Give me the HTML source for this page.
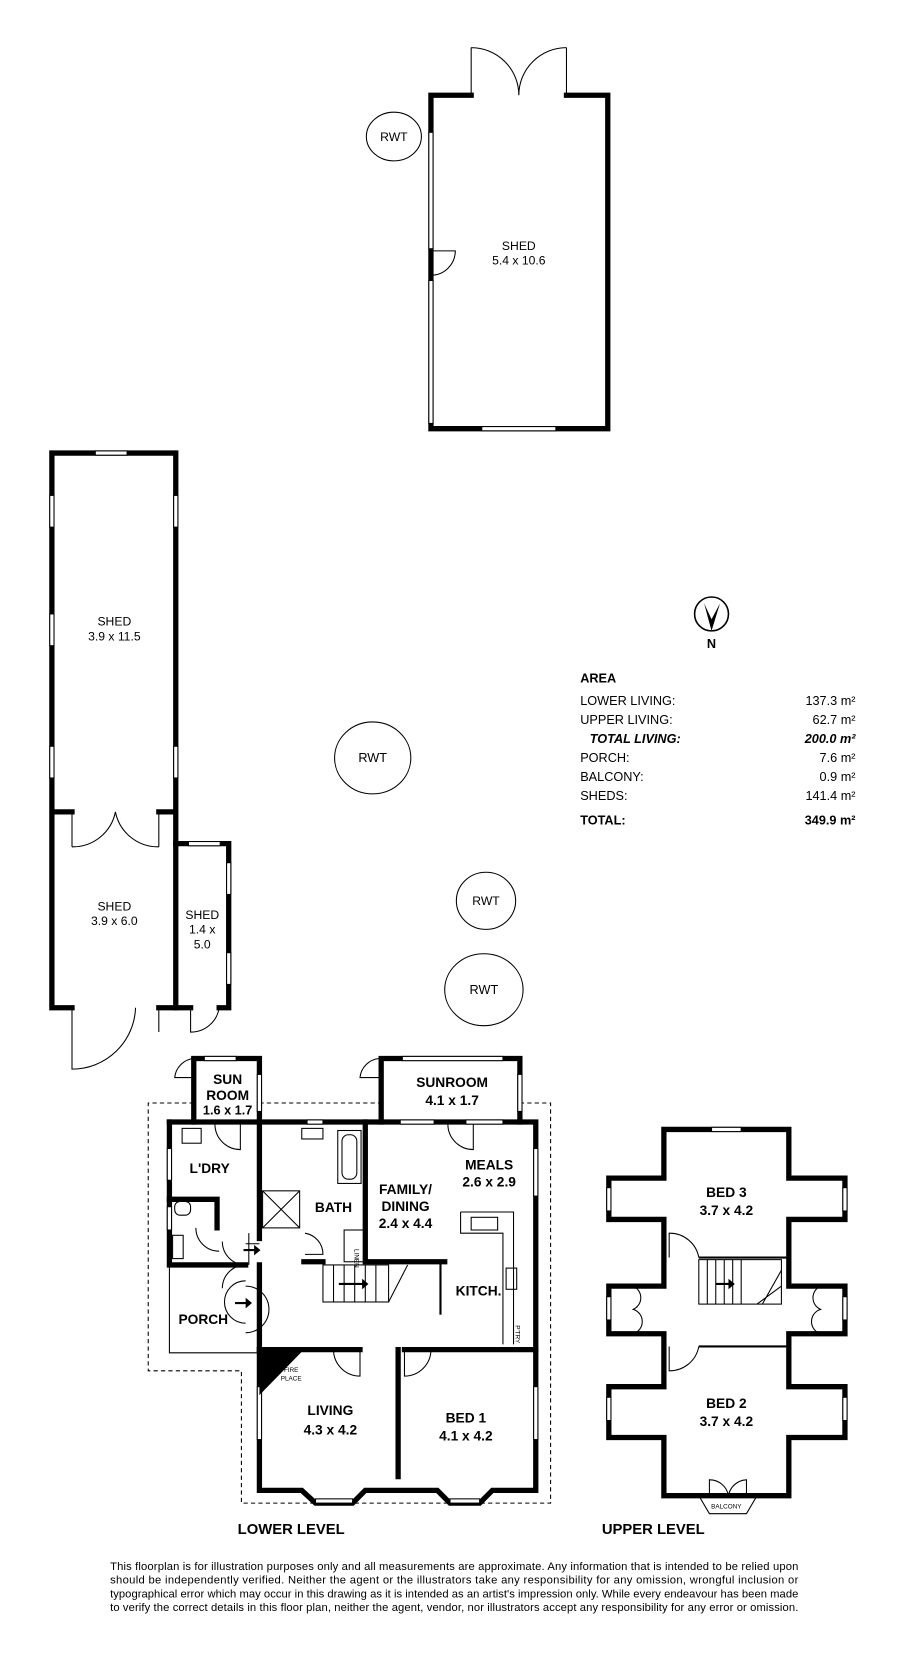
<!DOCTYPE html>
<html><head><meta charset="utf-8"><style>
html,body{margin:0;padding:0;background:#fff;width:900px;height:1664px;overflow:hidden}
svg{display:block}
text{font-family:"Liberation Sans",sans-serif;fill:#000}
.b{font-weight:bold}
</style></head><body>
<svg width="900" height="1664" viewBox="0 0 850 1572" preserveAspectRatio="none">
<g fill="none" stroke="#000" stroke-width="5" stroke-linejoin="miter" stroke-linecap="square">
<path d="M445,90 L407,90 L407,405 L574,405 L574,90 L535,90"/>
<path d="M68,767 L49,767 L49,952 L68,952 M150,767 L166,767 M49,767 L49,428 L166,428 L166,952 L150,952"/>
<path d="M166,797 L216,797 L216,952 L207,952 M166,952 L180,952"/>
<path d="M183,1060 L183,1000 L245,1000 L245,1060"/>
<path d="M360,1060 L360,1000 L491,1000 L491,1060"/>
<path d="M160,1060 L506,1060 L506,1408 L465,1408 L453,1420 L425,1420 L413,1408 L345,1408 L333,1420 L298,1420 L285,1408 L245,1408 L245,1275"/>
<path d="M160,1060 L160,1195 L232,1195"/>
<path d="M245,1060 L245,1170"/>
<path d="M345,1060 L345,1192 L420,1192"/>
<path d="M160,1133 L205,1133 L205,1160"/>
<path d="M245,1275 L340,1275 M382,1275 L506,1275"/>
<path d="M376,1275 L376,1395"/>
<path d="M245,1195 L245,1275"/>
<path d="M287,1192 L305,1192"/>
<path d="M627,1067 L745,1067 L745,1113 L798,1113 L798,1152 L745,1152 L745,1215 L798,1215 L798,1260 L745,1260 L745,1310 L798,1310 L798,1358 L745,1358 L745,1413 L627,1413 L627,1358 L575,1358 L575,1310 L627,1310 L627,1260 L575,1260 L575,1215 L627,1215 L627,1152 L575,1152 L575,1113 L627,1113 Z"/>
</g>
<g fill="none" stroke="#000" stroke-width="2">
<path d="M660,1188 L745,1188 M660,1272 L745,1272"/>
<path d="M416,1190 L416,1242"/>
</g>
<g fill="none" stroke="#000" stroke-width="1">
<path d="M445,90 L445,45 M535,90 L535,45 M445,45 A45,45 0 0 1 490,90 M535,45 A45,45 0 0 0 490,90"/>
<path d="M407,237 L430,237 A23,23 0 0 1 407,260"/>
<rect x="405" y="125" width="4" height="110" fill="#fff"/>
<rect x="405" y="265" width="4" height="135" fill="#fff"/>
<rect x="455" y="403" width="70" height="4" fill="#fff"/>
<path d="M68,767 L68,800 M150,767 L150,800 M68,800 A41,41 0 0 0 109,767 M150,800 A41,41 0 0 1 109,767"/>
<path d="M68,952 L68,1010 A60,60 0 0 0 128,952 M150,952 L150,975"/>
<path d="M180,952 L180,975 A27,27 0 0 0 207,952"/>
<rect x="90" y="426" width="30" height="4" fill="#fff"/>
<rect x="47" y="468" width="4" height="30" fill="#fff"/>
<rect x="47" y="580" width="4" height="30" fill="#fff"/>
<rect x="47" y="705" width="4" height="30" fill="#fff"/>
<rect x="164" y="468" width="4" height="30" fill="#fff"/>
<rect x="164" y="705" width="4" height="30" fill="#fff"/>
<rect x="178" y="795" width="30" height="4" fill="#fff"/>
<rect x="214" y="815" width="4" height="30" fill="#fff"/>
<rect x="214" y="900" width="4" height="30" fill="#fff"/>
<ellipse cx="372" cy="129" rx="26" ry="23"/>
<ellipse cx="352" cy="716" rx="36" ry="34"/>
<ellipse cx="459" cy="851" rx="28" ry="27"/>
<ellipse cx="457" cy="935" rx="37" ry="34"/>
<circle cx="672" cy="580" r="16" stroke-width="1.5"/>
<path stroke-dasharray="4,3" d="M183,1042 L140,1042 L140,1295 L228,1295 L228,1420 L520,1420 L520,1042 L493,1042 M245,1042 L358,1042"/>
<path d="M160,1195 L160,1278 L245,1278"/>
<rect x="193" y="998" width="30" height="4" fill="#fff"/>
<rect x="243" y="1015" width="4" height="35" fill="#fff"/>
<rect x="380" y="998" width="95" height="4" fill="#fff"/>
<rect x="489" y="1015" width="4" height="35" fill="#fff"/>
<rect x="158" y="1085" width="4" height="30" fill="#fff"/>
<rect x="158" y="1140" width="4" height="22" fill="#fff"/>
<rect x="378" y="1058" width="32" height="4" fill="#fff"/>
<rect x="440" y="1058" width="35" height="4" fill="#fff"/>
<rect x="504" y="1085" width="4" height="45" fill="#fff"/>
<rect x="290" y="1058" width="15" height="4" fill="#fff"/>
<rect x="243" y="1310" width="4" height="50" fill="#fff"/>
<rect x="504" y="1310" width="4" height="50" fill="#fff"/>
<rect x="298" y="1416" width="35" height="4" fill="#fff"/>
<rect x="425" y="1416" width="28" height="4" fill="#fff"/>
<path d="M183,1018 L165,1018 A20,20 0 0 1 183,1000"/>
<path d="M358,1018 L340,1018 A20,20 0 0 1 358,1000"/>
<path d="M203,1062 A24,24 0 0 0 227,1086 L227,1062"/>
<path d="M423,1062 A24,24 0 0 0 447,1086 L447,1062"/>
<path d="M340,1275 L340,1300 A25,25 0 0 1 315,1275"/>
<path d="M382,1275 L382,1300 A25,25 0 0 0 407,1275"/>
<path d="M288,1165 A20,20 0 0 1 305,1185 L288,1185"/>
<path d="M185,1160 A22,22 0 0 0 207,1182"/>
<path d="M232,1195 A22,22 0 0 1 210,1173 M232,1195 A22,22 0 0 0 210,1217 M232,1210 A20,20 0 0 0 232,1250 M232,1215 A22,22 0 0 1 232,1259"/>
<rect x="172" y="1066" width="18" height="14"/>
<rect x="285" y="1066" width="20" height="10"/>
<rect x="319" y="1068" width="22" height="50"/>
<rect x="323" y="1072" width="14" height="42" rx="6"/>
<rect x="248" y="1125" width="35" height="35"/>
<path d="M248,1125 L283,1160 M283,1125 L248,1160"/>
<rect x="325" y="1162" width="20" height="30"/>
<rect x="165" y="1135" width="15" height="13" rx="5"/>
<rect x="163" y="1167" width="10" height="22"/>
<path d="M435,1145 L485,1145 L485,1270 M435,1145 L435,1165 L475,1165 L475,1270"/>
<rect x="445" y="1150" width="25" height="12"/>
<rect x="478" y="1198" width="10" height="20"/>
<rect x="305" y="1195" width="62" height="35"/>
<path d="M315,1195 L315,1230 M325,1195 L325,1230 M335,1195 L335,1230 M345,1195 L345,1230 M355,1195 L355,1230 M367,1230 L385,1195"/>
<path d="M232,1175 L245,1175 M235,1165 L235,1195"/>
<rect x="660" y="1190" width="78" height="42"/>
<path d="M668,1190 L668,1232 M676,1190 L676,1232 M684,1190 L684,1232 M692,1190 L692,1232 M700,1190 L700,1232 M720,1232 L738,1200 M715,1232 L738,1215"/>
<path d="M632,1188 L632,1165 A28,28 0 0 1 660,1188"/>
<path d="M632,1272 L632,1295 A28,28 0 0 0 660,1272"/>
<path d="M660,1413 L715,1413 L705,1430 L670,1430 Z M670,1413 L670,1398 A18,18 0 0 1 688,1413 M705,1413 L705,1398 A18,18 0 0 0 688,1413"/>
<path d="M598,1215 A12,12 0 0 1 598,1237 A12,12 0 0 1 598,1260"/>
<path d="M775,1215 A12,12 0 0 0 775,1237 A12,12 0 0 0 775,1260"/>
<rect x="672" y="1065" width="28" height="4" fill="#fff"/>
<rect x="573" y="1122" width="4" height="22" fill="#fff"/>
<rect x="796" y="1122" width="4" height="22" fill="#fff"/>
<rect x="573" y="1225" width="4" height="22" fill="#fff"/>
<rect x="796" y="1225" width="4" height="22" fill="#fff"/>
<rect x="573" y="1320" width="4" height="22" fill="#fff"/>
<rect x="796" y="1320" width="4" height="22" fill="#fff"/>
</g>
<path d="M245,1277 L285,1277 L245,1318 Z" fill="#000"/>
<path d="M665,570 L672,596 L680,570 L672,585 Z" fill="#000"/>
<g fill="#000"><path d="M335,1212 L342,1212 L342,1208 L348,1213 L342,1218 L342,1214 L320,1214 L320,1212 Z"/>
<path d="M676,1212 L688,1212 L688,1208 L694,1213 L688,1218 L688,1214 L676,1214 Z"/>
<path d="M230,1180 L240,1180 L240,1176 L246,1181 L240,1186 L240,1182 L230,1182 Z"/>
<path d="M222,1230 L232,1230 L232,1226 L238,1231 L232,1236 L232,1232 L222,1232 Z"/></g>
<g font-size="11.5" text-anchor="middle">
<text x="490" y="236">SHED</text><text x="490" y="250">5.4 x 10.6</text>
<text x="372" y="133">RWT</text>
<text x="108" y="591">SHED</text><text x="108" y="605">3.9 x 11.5</text>
<text x="108" y="860">SHED</text><text x="108" y="874">3.9 x 6.0</text>
<text x="191" y="868">SHED</text><text x="191" y="882">1.4 x</text><text x="191" y="896">5.0</text>
<text x="352" y="720" font-size="12">RWT</text>
<text x="459" y="855">RWT</text>
<text x="457" y="939" font-size="12">RWT</text>
<text x="672" y="612" class="b" font-size="12">N</text>
</g>
<g font-size="12">
<text x="548" y="645" class="b">AREA</text>
<text x="548" y="666">LOWER LIVING:</text><text x="808" y="666" text-anchor="end">137.3 m²</text>
<text x="548" y="684">UPPER LIVING:</text><text x="808" y="684" text-anchor="end">62.7 m²</text>
<text x="557" y="702" class="b" font-style="italic">TOTAL LIVING:</text><text x="808" y="702" class="b" font-style="italic" text-anchor="end">200.0 m²</text>
<text x="548" y="720">PORCH:</text><text x="808" y="720" text-anchor="end">7.6 m²</text>
<text x="548" y="738">BALCONY:</text><text x="808" y="738" text-anchor="end">0.9 m²</text>
<text x="548" y="756">SHEDS:</text><text x="808" y="756" text-anchor="end">141.4 m²</text>
<text x="548" y="779" class="b">TOTAL:</text><text x="808" y="779" class="b" text-anchor="end">349.9 m²</text>
</g>
<g font-size="13" text-anchor="middle" class="b">
<text x="215" y="1024">SUN</text><text x="215" y="1039">ROOM</text><text x="215" y="1053" font-size="12">1.6 x 1.7</text>
<text x="427" y="1027">SUNROOM</text><text x="427" y="1044">4.1 x 1.7</text>
<text x="198" y="1108">L'DRY</text>
<text x="315" y="1145">BATH</text>
<text x="462" y="1105">MEALS</text><text x="462" y="1121">2.6 x 2.9</text>
<text x="383" y="1128">FAMILY/</text><text x="383" y="1144">DINING</text><text x="383" y="1160">2.4 x 4.4</text>
<text x="452" y="1224">KITCH.</text>
<text x="192" y="1251">PORCH</text>
<text x="312" y="1337">LIVING</text><text x="312" y="1355">4.3 x 4.2</text>
<text x="440" y="1344">BED 1</text><text x="440" y="1361">4.1 x 4.2</text>
<text x="686" y="1131">BED 3</text><text x="686" y="1148">3.7 x 4.2</text>
<text x="686" y="1330">BED 2</text><text x="686" y="1347">3.7 x 4.2</text>
<text x="275" y="1449" font-size="14">LOWER LEVEL</text>
<text x="617" y="1449" font-size="14">UPPER LEVEL</text>
</g>
<g font-size="6" text-anchor="middle"><text x="275" y="1296">FIRE</text><text x="275" y="1304">PLACE</text><text x="686" y="1425">BALCONY</text></g>
<text x="335" y="1180" font-size="6" transform="rotate(90 335 1180)">LINEN</text>
<text x="487" y="1252" font-size="6" transform="rotate(90 487 1252)">P'TRY</text>
<g font-size="10.6">
<text x="104" y="1483" textLength="650">This floorplan is for illustration purposes only and all measurements are approximate. Any information that is intended to be relied upon</text>
<text x="104" y="1496" textLength="650">should be independently verified. Neither the agent or the illustrators take any responsibility for any omission, wrongful inclusion or</text>
<text x="104" y="1509" textLength="650">typographical error which may occur in this drawing as it is intended as an artist's impression only. While every endeavour has been made</text>
<text x="104" y="1522" textLength="650">to verify the correct details in this floor plan, neither the agent, vendor, nor illustrators accept any responsibility for any error or omission.</text>
</g>
</svg>
</body></html>
